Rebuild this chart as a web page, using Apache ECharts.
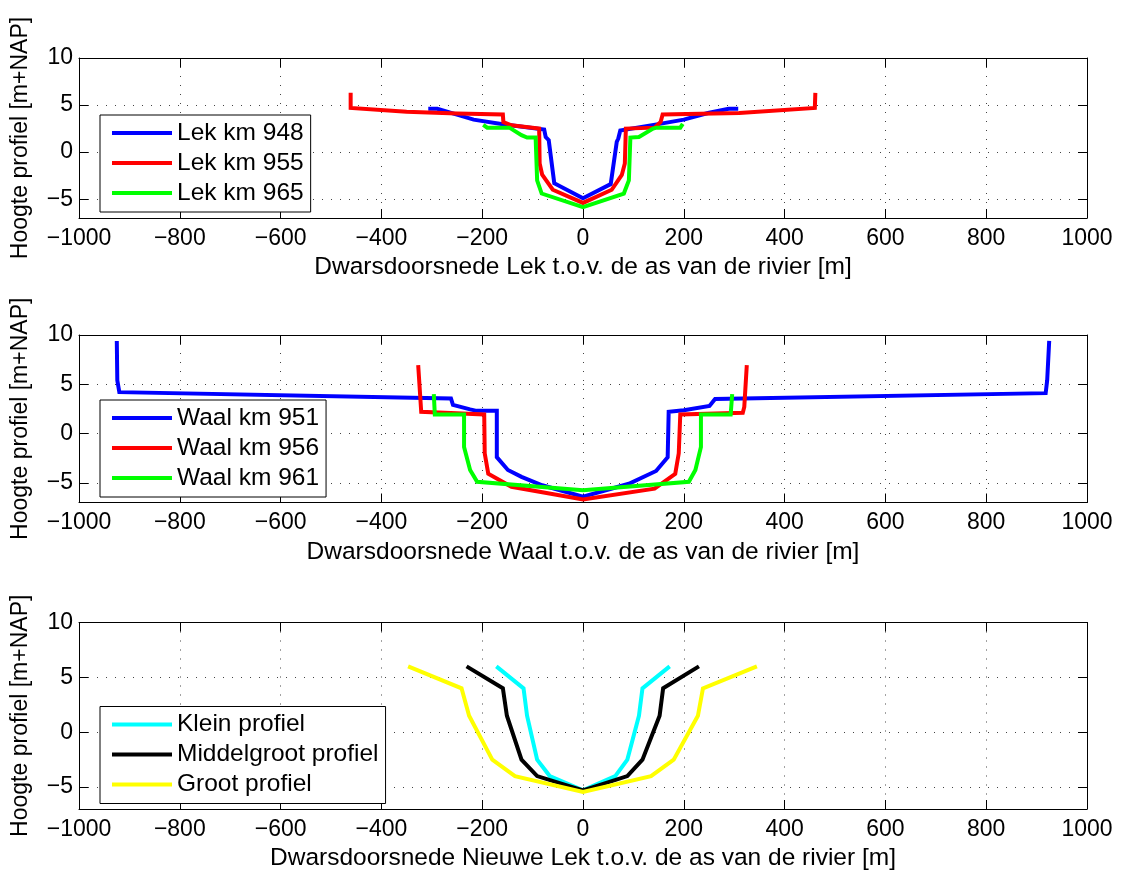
<!DOCTYPE html>
<html>
<head>
<meta charset="utf-8">
<script src="https://cdn.jsdelivr.net/npm/echarts@6/dist/echarts.min.js"></script>
<style>html,body{margin:0;padding:0;background:#fff;}#c{width:1124px;height:872px;}</style>
</head>
<body>
<div id="c"></div>
<script>
// ---- data ----
const xTicks = [-1000, -800, -600, -400, -200, 0, 200, 400, 600, 800, 1000];
const yTicks = [-5, 0, 5, 10];

const lekNames = ['Lek km 948', 'Lek km 955', 'Lek km 965'];
const lek948 = [[-307,4.6],[-289,4.6],[-245,3.9],[-217,3.45],[-159,2.96],[-77,2.4],[-74,1.6],[-68,1.27],[-57,-3.3],[0,-4.9],[55,-3.4],[67,1.1],[70,1.45],[74,2.3],[152,3.0],[200,3.45],[248,4.15],[289,4.6],[308,4.6]];
const lek955 = [[-461,6.3],[-461,4.7],[-350,4.3],[-250,4.1],[-159,4.0],[-158,3.2],[-142,2.85],[-87,2.5],[-86,-1.2],[-81,-2.4],[-60,-4.0],[0,-5.4],[57,-4.0],[77,-2.43],[83,-1.2],[85,2.5],[142,2.6],[154,3.2],[158,4.0],[310,4.15],[460,4.7],[461,6.3]];
const lek965 = [[-198,2.9],[-190,2.6],[-146,2.6],[-122,1.8],[-111,1.55],[-94,1.55],[-91,-3.0],[-82,-4.4],[0,-5.85],[81,-4.4],[91,-3.0],[94,1.55],[111,1.6],[139,2.5],[146,2.6],[193,2.6],[198,3.0]];

const waalNames = ['Waal km 951', 'Waal km 956', 'Waal km 961'];
const waal951 = [[-925,9.4],[-924,5.4],[-920,4.2],[-262,3.56],[-258,2.9],[-224,2.45],[-211,2.3],[-171,2.3],[-171,-2.4],[-149,-3.7],[-122,-4.4],[-81,-5.25],[0,-6.4],[91,-5.1],[145,-3.8],[168,-2.4],[170,2.2],[200,2.37],[251,2.8],[262,3.5],[918,4.1],[921,5.4],[925,9.4]];
const waal956 = [[-327,6.95],[-321,2.2],[-196,1.93],[-195,-2.0],[-188,-4.07],[-142,-5.4],[0,-6.7],[142,-5.6],[183,-4.1],[190,-2.0],[193,1.93],[317,2.1],[320,2.7],[325,6.95]];
const waal961 = [[-296,4.0],[-294,1.93],[-236,1.93],[-236,-1.36],[-224,-3.7],[-210,-4.9],[0,-5.76],[210,-4.9],[223,-3.7],[234,-1.36],[234,1.93],[293,1.93],[296,4.0]];

const nlNames = ['Klein profiel', 'Middelgroot profiel', 'Groot profiel'];
const klein = [[-172,6],[-118,4],[-111,1.5],[-91,-2.5],[-66,-4],[0,-5.3],[64,-4],[88,-2.5],[111,1.5],[118,4],[172,6]];
const middelgroot = [[-231,6],[-159,4],[-151,1.5],[-122,-2.5],[-91,-4],[0,-5.3],[88,-4],[118,-2.5],[152,1.5],[159,4],[230,6]];
const groot = [[-347,6],[-241,4],[-226,1.5],[-180,-2.5],[-135,-4],[0,-5.45],[135,-4],[180,-2.5],[228,1.5],[238,4],[345,6]];

const xNames = [
  'Dwarsdoorsnede Lek t.o.v. de as van de rivier [m]',
  'Dwarsdoorsnede Waal t.o.v. de as van de rivier [m]',
  'Dwarsdoorsnede Nieuwe Lek t.o.v. de as van de rivier [m]'
];
const yName = 'Hoogte profiel [m+NAP]';

// ---- layout / style ----
const FONT = 'Liberation Sans, Arial, sans-serif';
const FS = 23;
const FS2 = 24.5;
const grids = [
  {left: 79, right: 37, top: 58, height: 160},
  {left: 79, right: 37, top: 335, height: 167.5},
  {left: 79, right: 37, top: 622.5, height: 187}
];
const legendTops = [115, 400, 706.5];
const panels = [
  {names: lekNames, data: [lek948, lek955, lek965], colors: ['#0000ff', '#ff0000', '#00ff00']},
  {names: waalNames, data: [waal951, waal956, waal961], colors: ['#0000ff', '#ff0000', '#00ff00']},
  {names: nlNames, data: [klein, middelgroot, groot], colors: ['#00ffff', '#000000', '#ffff00']}
];

const minus = v => (v < 0 ? '\u2212' + Math.abs(v) : String(v));
const gridLine = {show: true, lineStyle: {color: '#444', width: 1, type: [1, 8]}};
const axisLine = {show: true, onZero: false, lineStyle: {color: '#000', width: 1}};
const tick = {show: true, inside: true, length: 9, lineStyle: {color: '#000', width: 1}};

const xAxis = [], yAxis = [], series = [], legend = [];
panels.forEach((p, i) => {
  xAxis.push({
    type: 'value', gridIndex: i, min: -1000, max: 1000, interval: 200, position: 'bottom',
    axisLine, axisTick: tick, splitLine: gridLine,
    axisLabel: {show: true, margin: 9, fontSize: FS, fontFamily: FONT, color: '#000', formatter: minus},
    name: xNames[i], nameLocation: 'middle', nameGap: 37,
    nameTextStyle: {fontSize: FS2, fontFamily: FONT, color: '#000'}
  });
  xAxis.push({
    type: 'value', gridIndex: i, min: -1000, max: 1000, interval: 200, position: 'top',
    axisLine, axisTick: tick, splitLine: {show: false}, axisLabel: {show: false}
  });
  yAxis.push({
    type: 'value', gridIndex: i, min: -7, max: 10, interval: 5, position: 'left',
    axisLine, axisTick: {...tick, customValues: yTicks}, splitLine: gridLine,
    axisLabel: {show: true, margin: 6, fontSize: FS, fontFamily: FONT, color: '#000', formatter: minus, customValues: yTicks},
    name: yName, nameLocation: 'middle', nameGap: 47, nameRotate: 90,
    nameTextStyle: {fontSize: FS, fontFamily: FONT, color: '#000'}
  });
  yAxis.push({
    type: 'value', gridIndex: i, min: -7, max: 10, interval: 5, position: 'right',
    axisLine, axisTick: {...tick, customValues: yTicks}, splitLine: {show: false}, axisLabel: {show: false}
  });
  p.names.forEach((n, k) => {
    series.push({
      type: 'line', name: n, data: p.data[k], xAxisIndex: 2 * i, yAxisIndex: 2 * i,
      symbol: 'none', showSymbol: false, animation: false, clip: true,
      lineStyle: {color: p.colors[k], width: 4, cap: 'butt', join: 'miter'},
      itemStyle: {color: p.colors[k]}, z: 2 + k
    });
  });
  legend.push({
    data: p.names, orient: 'vertical', left: 100, top: legendTops[i],
    icon: 'rect', itemWidth: 60, itemHeight: 4, itemGap: 0, selectedMode: false,
    padding: [3, 7, 4, 12], borderColor: '#000', borderWidth: 1, backgroundColor: '#fff',
    textStyle: {fontSize: FS2, fontFamily: FONT, color: '#000', lineHeight: 30}
  });
});

const chart = echarts.init(document.getElementById('c'), null, {renderer: 'canvas'});
chart.setOption({
  backgroundColor: '#fff',
  animation: false,
  grid: grids.map(g => ({...g, show: false})),
  xAxis, yAxis, series, legend
});
</script>
</body>
</html>
